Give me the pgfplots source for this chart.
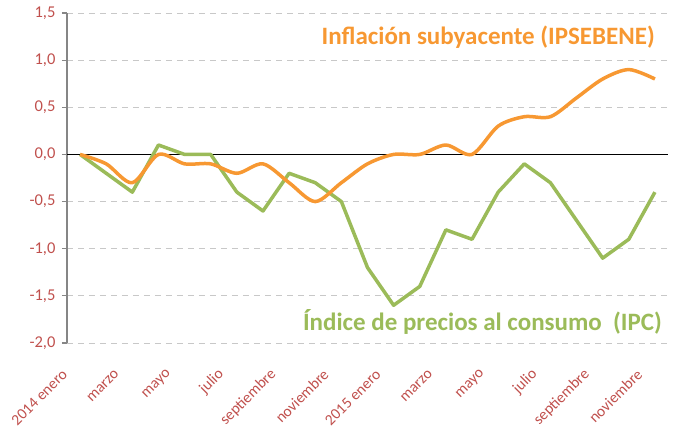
\documentclass[border=0pt]{standalone}
\usepackage{pgfplots}
\pgfplotsset{compat=1.18}
\usepackage{fontspec}
\setmainfont{Carlito}
\definecolor{tickred}{RGB}{192,80,77}
\definecolor{ipcgreen}{RGB}{155,187,89}
\definecolor{ipsorange}{RGB}{247,152,50}
\definecolor{axgray}{RGB}{134,134,134}
\definecolor{gridgray}{RGB}{200,200,200}
\begin{document}
\begin{tikzpicture}[x=1pt,y=1pt]
\path[use as bounding box] (-67,-85) rectangle (606,343);
\begin{axis}[
  at={(0,0)}, anchor=south west,
  scale only axis, width=601pt, height=330pt,
  xmin=-0.5, xmax=22.5, ymin=-2, ymax=1.5,
  axis y line*=left, axis x line*=bottom,
  x axis line style={draw=none},
  y axis line style={draw=axgray, line width=1.5pt},
  xtick={0,2,...,22},
  xticklabels={2014 enero, marzo, mayo, julio, septiembre, noviembre, 2015 enero, marzo, mayo, julio, septiembre, noviembre},
  xtick style={draw=none},
  x tick label style={xshift=-15pt, yshift=-23.5pt, rotate=45, anchor=east, inner sep=0.5pt, font=\fontsize{15.5}{18}\selectfont, text=tickred},
  ytick={-2,-1.5,...,1.5},
  ymajorgrids,
  grid style={gridgray, dash pattern=on 6pt off 5pt, line width=0.9pt},
  ytick style={axgray, line width=1.2pt},
  tick align=outside,
  major tick length=5pt,
  y tick label style={xshift=-3pt, font=\fontsize{16.5}{18}\selectfont, text=tickred, /pgf/number format/.cd, use comma, fixed, fixed zerofill, precision=1, assume math mode=true},
  clip=false,
]
\addplot[black, line width=0.9pt, forget plot] coordinates {(-0.5,0) (22.5,0)};
\addplot[ipcgreen, line width=3.5pt, line join=round] coordinates {
(0,0) (1,-0.2) (2,-0.4) (3,0.1) (4,0) (5,0) (6,-0.4) (7,-0.6) (8,-0.2) (9,-0.3) (10,-0.5)
(11,-1.2) (12,-1.6) (13,-1.4) (14,-0.8) (15,-0.9) (16,-0.4) (17,-0.1) (18,-0.3) (19,-0.7) (20,-1.1) (21,-0.9) (22,-0.4)};
\addplot[ipsorange, line width=3.5pt, smooth, tension=0.5, line join=round] coordinates {
(0,0) (1,-0.1) (2,-0.3) (3,0) (4,-0.1) (5,-0.1) (6,-0.2) (7,-0.1) (8,-0.3) (9,-0.5) (10,-0.3)
(11,-0.1) (12,0) (13,0) (14,0.1) (15,0) (16,0.3) (17,0.4) (18,0.4) (19,0.6) (20,0.8) (21,0.9) (22,0.8)};
\node[text=ipsorange, font=\bfseries\fontsize{25}{28}\selectfont] at (axis cs:15.62,1.24) {Inflación subyacente (IPSEBENE)};
\node[text=ipcgreen, font=\bfseries\fontsize{25}{28}\selectfont] at (axis cs:15.4,-1.78) {Índice de precios al consumo\ \ (IPC)};
\end{axis}
\end{tikzpicture}
\end{document}
